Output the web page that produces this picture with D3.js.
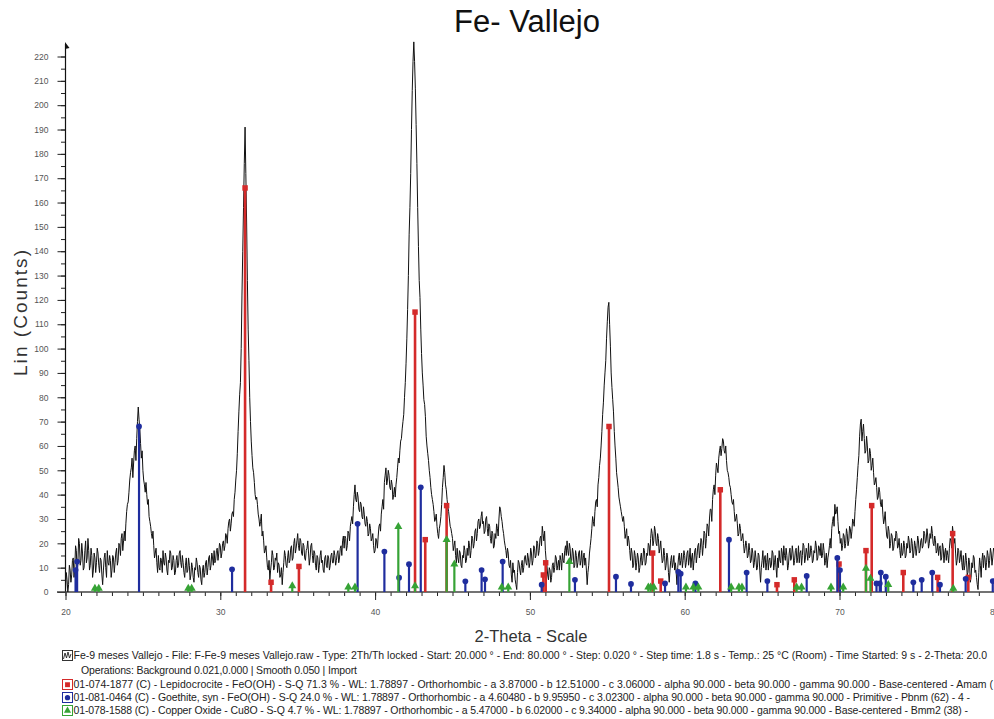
<!DOCTYPE html>
<html>
<head>
<meta charset="utf-8">
<script src="https://cdn.jsdelivr.net/npm/d3@7"></script>
<style>
  html, body { margin: 0; padding: 0; background: #fff; overflow: hidden; }
  svg { display: block; font-family: "Liberation Sans", Arial, sans-serif; }
</style>
</head>
<body>
<svg id="chart" width="994" height="719"></svg>
<script>
// Scan settings: 2-theta from 20 to 80 degrees, one reading every 0.05 degree
const thetaStart = 20;
const thetaStep = 0.05;

// Measured intensity (counts), twenty readings per degree
const counts = [
  1,8,5,0,3,11,9,4,7,13,14,6,10,19,17,8,12,22,20,11,            // 20
  13,20,16,9,10,17,21,12,14,22,17,9,11,18,15,6,9,16,14,8,       // 21
  12,18,16,11,8,14,13,7,3,9,14,16,10,6,17,12,11,15,13,6,        // 22
  9,15,14,8,12,16,18,11,13,20,19,15,22,24,17,21,25,21,28,33,    // 23
  36,37,41,46,49,51,55,47,53,58,60,54,63,70,76,71,67,61,55,58,  // 24
  50,46,44,41,45,40,36,38,31,29,27,24,22,25,19,14,16,18,12,8,   // 25
  15,10,9,14,13,8,17,12,11,16,14,9,7,13,12,17,16,9,10,15,       // 26
  13,7,8,13,15,10,11,16,17,12,10,15,12,8,6,11,14,8,9,14,        // 27
  11,5,7,12,10,6,4,10,9,14,12,8,6,11,10,5,3,9,11,6,             // 28
  8,12,13,7,10,14,15,9,11,16,14,11,17,12,13,17,18,13,16,20,     // 29
  19,14,16,20,21,17,19,24,23,20,26,29,30,25,28,32,33,31,38,41,  // 30
  46,50,57,66,74,81,86,100,122,140,158,176,191,172,152,128,108,95,80,70, // 31
  62,56,51,49,45,40,38,39,36,32,30,27,29,32,23,25,21,16,17,19,  // 32
  14,10,9,13,5,9,12,17,15,9,10,14,13,16,8,12,11,6,7,10,         // 33
  3,8,12,17,15,11,10,14,17,12,13,18,19,13,14,20,22,16,18,21,    // 34
  24,19,17,22,21,16,15,20,19,14,13,17,18,21,16,11,14,19,20,15,  // 35
  12,17,16,11,9,15,14,8,11,15,17,12,13,9,8,14,15,11,10,15,      // 36
  14,9,11,15,16,12,12,17,15,11,13,16,17,12,14,18,19,15,21,23,   // 37
  18,23,22,17,19,25,24,21,27,29,31,28,35,40,44,38,37,41,39,34,  // 38
  33,37,36,31,30,35,32,28,27,31,29,23,24,28,26,21,22,24,19,16,  // 39
  17,22,21,18,23,27,28,25,32,35,38,34,45,48,51,44,46,50,48,43,  // 40
  42,46,44,38,40,43,39,44,47,51,55,53,58,62,63,67,70,73,80,86,  // 41
  94,104,116,130,147,158,172,190,206,218,226,218,207,192,176,158,142,128,121,108, // 42
  98,90,85,79,77,72,64,60,57,54,50,47,43,40,38,36,33,29,30,32,  // 43
  27,24,22,26,28,31,36,43,47,52,49,44,42,38,35,33,30,27,26,24,  // 44
  22,17,19,21,15,12,18,14,12,17,16,11,10,15,14,19,17,12,13,18,  // 45
  15,21,19,14,17,23,22,18,20,25,26,21,24,29,30,26,27,31,33,28,  // 46
  29,24,25,30,31,26,23,28,27,22,20,25,24,18,19,24,22,28,26,23,  // 47
  30,35,34,31,29,26,24,21,19,17,14,18,16,11,10,13,7,4,12,8,     // 48
  9,5,3,1,8,13,12,9,7,11,13,8,10,14,15,12,11,16,14,10,          // 49
  12,18,16,11,13,19,18,14,15,21,20,15,17,22,23,19,27,24,21,25,  // 50
  17,13,11,7,5,10,9,4,6,11,12,8,10,15,14,9,11,13,9,15,          // 51
  13,9,16,13,12,17,19,15,21,17,15,20,18,12,13,18,16,10,11,17,   // 52
  15,10,12,16,17,11,13,17,10,14,16,11,14,9,3,8,11,16,19,22,     // 53
  26,31,29,27,33,37,38,35,44,47,52,55,60,66,73,78,85,90,95,104, // 54
  111,117,119,110,101,90,84,79,74,66,60,55,49,46,43,39,37,35,33,31, // 55
  29,31,27,22,24,26,19,23,21,17,13,18,16,10,11,17,15,9,12,16,   // 56
  14,8,10,14,16,11,13,18,17,11,12,16,15,20,19,15,22,26,24,19,   // 57
  21,27,25,20,19,24,22,16,18,21,16,12,13,18,15,9,11,16,14,8,    // 58
  4,9,13,15,10,12,15,9,12,8,3,10,14,16,11,13,16,10,13,17,       // 59
  15,10,12,16,17,11,14,18,10,14,16,9,13,17,18,12,15,19,20,14,   // 60
  17,22,21,15,19,25,24,18,22,28,27,23,30,34,34,29,38,42,44,40,  // 61
  48,53,51,49,55,58,60,56,59,63,62,58,57,60,54,50,49,47,44,43,  // 62
  40,37,36,38,33,29,30,32,28,23,24,28,26,21,22,24,20,16,18,21,  // 63
  19,14,15,20,17,12,13,18,16,10,12,17,14,9,10,16,15,9,4,10,     // 64
  13,17,10,14,15,9,12,16,9,13,14,10,11,17,16,9,12,15,10,6,      // 65
  14,10,17,13,12,18,16,11,19,15,13,18,15,9,11,16,18,13,14,19,   // 66
  16,11,13,17,18,12,14,19,12,16,17,11,15,20,19,12,14,18,16,13,  // 67
  20,14,15,19,17,12,13,17,16,21,19,13,14,19,18,15,20,14,15,20,  // 68
  17,11,13,16,10,14,16,19,22,18,26,29,31,27,36,32,33,35,29,24,  // 69
  25,20,22,17,19,24,23,18,20,26,24,19,21,27,26,22,25,30,29,27,  // 70
  33,38,42,47,52,56,64,69,71,62,66,69,63,57,58,64,60,53,54,59,  // 71
  57,50,52,55,49,44,45,47,43,38,39,43,41,36,35,38,32,28,30,33,  // 72
  27,23,22,27,25,18,20,24,23,17,18,22,21,25,24,18,19,22,17,14,  // 73
  20,15,16,21,19,14,15,20,18,23,21,16,17,22,20,14,16,21,19,15,  // 74
  18,23,21,16,17,21,22,18,19,25,24,20,21,26,23,18,20,24,22,27,  // 75
  24,20,19,23,21,16,17,20,15,18,19,13,14,20,18,12,16,18,13,17,  // 76
  15,12,18,22,21,18,27,24,20,22,16,11,13,18,17,12,14,17,12,9,   // 77
  15,9,11,16,13,7,8,14,12,4,6,12,10,15,14,8,9,6,3,1,            // 78
  8,14,11,6,13,16,10,15,14,9,12,17,15,10,13,18,16,11,14,18,     // 79
  17                                                            // 80
];

// Reference patterns: [2-theta, intensity in counts]
const lepidocrocite = [
  [31.60, 166], [33.28, 4], [35.08, 10.5], [42.58, 115], [43.24, 21.5],
  [44.62, 35.5], [50.87, 7], [51.02, 12], [55.11, 68], [57.93, 16],
  [58.45, 4.5], [62.30, 42], [65.96, 3], [67.08, 5], [69.97, 11.5],
  [71.71, 17], [72.08, 35.5], [74.12, 8], [76.34, 6], [77.31, 24], [78.32, 6]
];
const goethite = [
  [20.65, 9], [20.75, 12.5], [24.75, 68], [30.76, 9.3], [38.87, 28],
  [40.60, 16.6], [41.55, 5.9], [42.19, 11.4], [42.95, 43], [45.83, 4.4],
  [46.88, 9], [47.10, 5.2], [48.24, 12.5], [50.76, 3], [52.91, 5],
  [55.56, 6.3], [56.53, 3.3], [58.73, 3.5], [59.59, 8.3], [59.74, 7.5],
  [60.69, 3.5], [62.86, 21.5], [64.00, 8], [65.34, 4.5], [67.88, 6.6],
  [69.86, 14], [70.03, 9], [72.39, 3.5], [72.60, 3.5], [72.67, 8],
  [72.99, 6.3], [74.77, 4], [75.31, 5], [75.99, 8], [76.49, 3],
  [78.15, 5.4], [79.90, 4.5]
];
const copperOxide = [
  [21.90, 1.5], [22.15, 1.5], [27.93, 1.5], [28.15, 1.5], [34.65, 2.5],
  [38.27, 2], [38.70, 2], [41.50, 26.8], [42.58, 2.5], [44.62, 21.5],
  [45.12, 11.4], [48.18, 2], [48.60, 2], [52.55, 12.5], [57.65, 2],
  [57.80, 2], [58.00, 2], [60.08, 2], [60.56, 2], [60.88, 2],
  [63.00, 2], [63.50, 2], [63.70, 2], [67.23, 2], [67.55, 2],
  [69.45, 2], [70.24, 2], [71.71, 9.7], [72.00, 5.6], [73.15, 3], [77.35, 1.5]
];

// Axis ticks
const xMajorTicks = [20, 30, 40, 50, 60, 70, 80];
const xMinorTicks = d3.range(20, 81, 1);
const yMajorTicks = d3.range(0, 221, 10);
const yMinorTicks = d3.range(0, 221, 5);

// Texts
const titleText = "Fe- Vallejo";
const yTitle = "Lin (Counts)";
const xTitle = "2-Theta - Scale";
const scanLines = [
  "Fe-9 meses Vallejo - File: F-Fe-9 meses Vallejo.raw - Type: 2Th/Th locked - Start: 20.000 ° - End: 80.000 ° - Step: 0.020 ° - Step time: 1.8 s - Temp.: 25 °C (Room) - Time Started: 9 s - 2-Theta: 20.0",
  "Operations: Background 0.021,0.000 | Smooth 0.050 | Import"
];
const phaseLines = [
  "01-074-1877 (C) - Lepidocrocite - FeO(OH) - S-Q 71.3 % - WL: 1.78897 - Orthorhombic - a 3.87000 - b 12.51000 - c 3.06000 - alpha 90.000 - beta 90.000 - gamma 90.000 - Base-centered - Amam (",
  "01-081-0464 (C) - Goethite, syn - FeO(OH) - S-Q 24.0 % - WL: 1.78897 - Orthorhombic - a 4.60480 - b 9.95950 - c 3.02300 - alpha 90.000 - beta 90.000 - gamma 90.000 - Primitive - Pbnm (62) - 4 -",
  "01-078-1588 (C) - Copper Oxide - Cu8O - S-Q 4.7 % - WL: 1.78897 - Orthorhombic - a 5.47000 - b 6.02000 - c 9.34000 - alpha 90.000 - beta 90.000 - gamma 90.000 - Base-centered - Bmm2 (38) -"
];

const COLORS = { red: "#d42a2a", blue: "#1f2d9e", green: "#36a335" };

const svg = d3.select("#chart");
svg.append("rect").attr("width", 994).attr("height", 719).attr("fill", "#fff");

const x = d3.scaleLinear().domain([20, 80]).range([65.5, 994.3]);
const y = d3.scaleLinear().domain([0, 220]).range([592, 56.5]);

// Title and axis titles
svg.append("text").attr("x", 527).attr("y", 32).attr("text-anchor", "middle")
  .attr("font-size", 31).attr("fill", "#111").text(titleText);
svg.append("text").attr("transform", "translate(27,313) rotate(-90)")
  .attr("text-anchor", "middle").attr("font-size", 19).attr("fill", "#333")
  .attr("textLength", 126).attr("lengthAdjust", "spacing").text(yTitle);
svg.append("text").attr("x", 531).attr("y", 642).attr("text-anchor", "middle")
  .attr("font-size", 16.5).attr("fill", "#333").text(xTitle);

// Y axis: minor ticks every 5, labelled ticks every 10
const gyMinor = svg.append("g").attr("transform", `translate(${x(20)},0)`)
  .call(d3.axisLeft(y).tickValues(yMinorTicks).tickSize(4.5).tickFormat(""));
gyMinor.select(".domain").remove();
const gyMajor = svg.append("g").attr("transform", `translate(${x(20)},0)`)
  .call(d3.axisLeft(y).tickValues(yMajorTicks).tickSize(8).tickPadding(9).tickFormat(d3.format("d")));
gyMajor.select(".domain").remove();
gyMajor.selectAll("text").attr("font-size", 8.5).attr("fill", "#555");
svg.append("line").attr("x1", x(20)).attr("x2", x(20)).attr("y1", y(0)).attr("y2", 44)
  .attr("stroke", "#111").attr("stroke-width", 1.2);
svg.append("path").attr("d", `M${x(20) - 0.5},42 L${x(20) + 4},48 L${x(20) - 0.5},49 Z`).attr("fill", "#111");

// X axis: minor ticks every degree, labelled ticks every 10
const gxMinor = svg.append("g").attr("transform", `translate(0,${y(0)})`)
  .call(d3.axisBottom(x).tickValues(xMinorTicks).tickSize(4).tickFormat(""));
gxMinor.select(".domain").remove();
const gxMajor = svg.append("g").attr("transform", `translate(0,${y(0)})`)
  .call(d3.axisBottom(x).tickValues(xMajorTicks).tickSize(8).tickPadding(9).tickFormat(d3.format("d")));
gxMajor.select(".domain").remove();
gxMajor.selectAll("text").attr("font-size", 8.5).attr("fill", "#555");
svg.selectAll(".tick line").attr("stroke", "#222");
svg.append("line").attr("x1", 57).attr("x2", 994).attr("y1", y(0)).attr("y2", y(0))
  .attr("stroke", "#444").attr("stroke-width", 1.5);

// Measured pattern
const line = d3.line()
  .x((d, i) => x(thetaStart + i * thetaStep))
  .y(d => y(d));
svg.append("path").datum(counts).attr("d", line)
  .attr("fill", "none").attr("stroke", "#111").attr("stroke-width", 1)
  .attr("stroke-linejoin", "round");

// Stick patterns with markers
function drawSticks(data, color, width, marker) {
  const g = svg.append("g");
  g.selectAll("line").data(data).join("line")
    .attr("x1", d => x(d[0])).attr("x2", d => x(d[0]))
    .attr("y1", y(0)).attr("y2", d => y(d[1]))
    .attr("stroke", color).attr("stroke-width", width);
  g.selectAll("path").data(data).join("path")
    .attr("transform", d => `translate(${x(d[0])},${y(d[1])})`)
    .attr("d", marker).attr("fill", color);
}
drawSticks(lepidocrocite, COLORS.red, 2.6, d3.symbol(d3.symbolSquare, 30)());
drawSticks(goethite, COLORS.blue, 2.2, d3.symbol(d3.symbolCircle, 26)());
drawSticks(copperOxide, COLORS.green, 2.2, d3.symbol(d3.symbolTriangle, 28)());

// Scan and phase legend
const legendX = 73.5;
const lineY = [659, 674, 688, 701, 714];
const lineEnds = [987, 357, 993, 970, 968];

// Data file icon
const icon = svg.append("g").attr("transform", `translate(62,${lineY[0] - 9})`);
icon.append("rect").attr("x", 0.5).attr("y", 0.5).attr("width", 10).attr("height", 10)
  .attr("fill", "#fff").attr("stroke", "#333");
icon.append("path").attr("d", "M1.5,9 L3,3 L4.5,8 L6,2 L7.5,8 L9,4")
  .attr("fill", "none").attr("stroke", "#222").attr("stroke-width", 0.9);

svg.append("text").attr("x", legendX).attr("y", lineY[0]).attr("font-size", 10.5)
  .attr("fill", "#222").attr("textLength", lineEnds[0] - legendX).attr("lengthAdjust", "spacing")
  .text(scanLines[0]);
svg.append("text").attr("x", 81).attr("y", lineY[1]).attr("font-size", 10.5)
  .attr("fill", "#222").attr("textLength", lineEnds[1] - 81).attr("lengthAdjust", "spacing")
  .text(scanLines[1]);

const phaseStyles = [
  { color: COLORS.red, sym: d3.symbolSquare, size: 24 },
  { color: COLORS.blue, sym: d3.symbolCircle, size: 22 },
  { color: COLORS.green, sym: d3.symbolTriangle, size: 22 }
];
phaseLines.forEach((t, i) => {
  const yy = lineY[i + 2];
  const s = phaseStyles[i];
  const g = svg.append("g").attr("transform", `translate(62,${yy - 9})`);
  g.append("rect").attr("x", 0.5).attr("y", 0.5).attr("width", 10).attr("height", 10)
    .attr("fill", "#fff").attr("stroke", s.color);
  g.append("path").attr("transform", "translate(5.5,5.7)")
    .attr("d", d3.symbol(s.sym, s.size)()).attr("fill", s.color);
  svg.append("text").attr("x", legendX).attr("y", yy).attr("font-size", 10.5)
    .attr("fill", "#222").attr("textLength", lineEnds[i + 2] - legendX).attr("lengthAdjust", "spacing")
    .text(t);
});
</script>
</body>
</html>
